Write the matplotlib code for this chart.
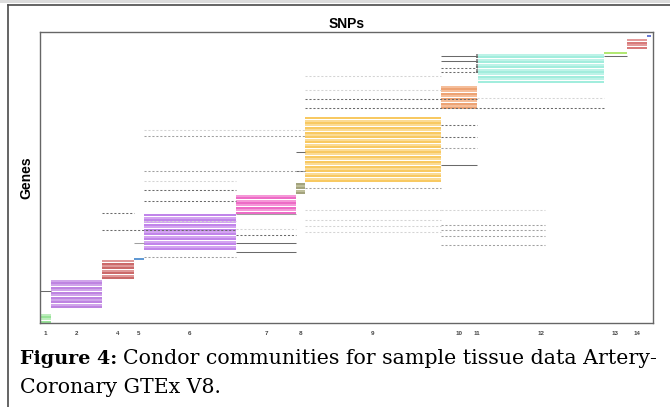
import numpy as np
import matplotlib.pyplot as plt
from matplotlib.lines import Line2D
from matplotlib.patches import Rectangle

# Communities: SNP span (x), gene span (y), colour pair (row, alternate row)
comm_labels = ["1", "2", "4", "5", "6", "7", "8", "9", "10", "11", "12", "13", "14", ""]
snp_start = [0, 44, 248, 376, 416, 784, 1024, 1060, 1604, 1746, 1752, 2256, 2348, 2428]
snp_end = [44, 248, 376, 416, 784, 1024, 1060, 1604, 1748, 1752, 2256, 2348, 2428, 2444]
gene_start = [0, 6, 18, 26, 30, 45, 53, 58, 88, 103, 99, 111, 113, 118]
gene_end = [4, 18, 26, 27, 45, 53, 58, 85, 98, 111, 111, 112, 117, 119]
comm_colors = [
    ("#8ee08e", "#b6ecb6"),
    ("#b877de", "#cc9ce8"),
    ("#c65a5a", "#dc8e8e"),
    ("#4f8fd0", "#4f8fd0"),
    ("#bb78e8", "#d09cf0"),
    ("#ec5cc0", "#f48ed4"),
    ("#9a9a70", "#b8b890"),
    ("#f8c452", "#fbd88a"),
    ("#ec9a66", "#f4b890"),
    ("#666666", "#888888"),
    ("#98ecda", "#b6f2e6"),
    ("#aae664", "#aae664"),
    ("#d46c6c", "#e09090"),
    ("#5a6cd0", "#5a6cd0"),
]

# Genes shared with other SNP groups: (snp_from, snp_to, gene, shade, dotted)
link_from = [0, 248, 248, 376, 416, 416, 416, 784, 784, 784, 784, 784, 1024, 1024,
             1060, 1060, 1604, 1604, 1604, 1604, 1604, 1604, 1604, 1604, 1060, 1060,
             1060, 1060, 1060, 1604, 1604, 1604, 1604, 1604, 2256, 1748, 416, 416,
             416, 416, 1060, 1060, 416]
link_to = [44, 376, 784, 416, 784, 784, 784, 1024, 1024, 1024, 1024, 1024, 1060, 1060,
           1748, 2256, 1748, 1748, 1748, 1748, 1748, 1748, 1748, 1748, 1604, 1604,
           1604, 1604, 1604, 2020, 2020, 2020, 2020, 2020, 2348, 2256, 1060, 1060,
           1060, 784, 1604, 1604, 784]
link_gene = [13.2, 45.4, 38.4, 33.0, 54.8, 50.3, 27.2, 45.0, 38.8, 36.3, 33.0, 29.3,
             62.7, 70.5, 92.4, 88.7, 110.1, 108.0, 105.2, 103.5, 81.6, 76.7, 72.2, 65.2,
             55.7, 46.6, 42.5, 40.0, 37.5, 46.6, 40.4, 38.4, 35.9, 32.2, 110.1, 92.8,
             79.6, 77.1, 62.7, 58.6, 102.0, 96.0, 42.0]
link_shade = ["d", "d", "d", "g", "d", "d", "g", "g", "l", "d", "d", "d",
              "d", "d", "d", "d", "d", "d", "d", "d", "d", "d", "g", "d",
              "g", "l", "l", "l", "l", "l", "g", "g", "g", "g", "d", "l",
              "l", "g", "g", "l", "l", "l", "l"]
link_dotted = [0, 1, 1, 0, 1, 1, 1, 0, 1, 1, 0, 0,
               0, 0, 1, 1, 0, 0, 1, 1, 1, 1, 1, 0,
               1, 1, 1, 1, 1, 1, 1, 1, 1, 1, 0, 1,
               1, 1, 1, 1, 1, 1, 1]

n_snps = 2452
n_genes = 120

shade_color = {"d": "#6a6a6a", "g": "#a0a0a0", "l": "#d4d4d4"}

fig = plt.figure(figsize=(6.7, 4.07), dpi=100)
ax = fig.add_axes([40 / 670, 84 / 407, 613 / 670, 291 / 407])

# rows of each community
for x0, x1, g0, g1, (c_row, c_alt) in zip(snp_start, snp_end, gene_start, gene_end, comm_colors):
    for g in range(g0, g1):
        col = c_row if (g - g0) % 2 == 0 else c_alt
        ax.hlines(g + 0.5, x0, x1, colors=col, linewidth=1.3)

# links between communities
for x0, x1, g, s, d in zip(link_from, link_to, link_gene, link_shade, link_dotted):
    ls = (0, (2.0, 1.8)) if d else "-"
    ax.hlines(g, x0, x1, colors=shade_color[s], linewidth=0.75, linestyles=ls)

ax.set_xlim(0, n_snps)
ax.set_ylim(0, n_genes)

# tick at the middle of every labelled community
centers = [(a + b) / 2 for a, b, lab in zip(snp_start, snp_end, comm_labels) if lab]
ax.set_xticks(centers)
ax.set_xticklabels([lab for lab in comm_labels if lab], fontsize=4.5,
                   fontweight="bold", color="#444444", family="Liberation Sans")
ax.tick_params(axis="x", length=0, pad=6)
ax.set_yticks([])
for sp in ax.spines.values():
    sp.set_color("#666666")
    sp.set_linewidth(1.0)

ax.set_title("SNPs", fontsize=10, fontweight="bold", pad=3, family="Liberation Sans")
ax.set_ylabel("Genes", fontsize=10, fontweight="bold", labelpad=5, family="Liberation Sans")

# page frame round the figure
fig.add_artist(Rectangle((0, 1 - 3 / 407), 1, 3 / 407, transform=fig.transFigure,
                         color="#dcdcdc", lw=0))
fig.add_artist(Line2D([8 / 670, 8 / 670], [0, 1 - 5 / 407], transform=fig.transFigure,
                      color="#4a4a4a", lw=1.2))
fig.add_artist(Line2D([8 / 670, 1], [1 - 5 / 407, 1 - 5 / 407], transform=fig.transFigure,
                      color="#4a4a4a", lw=1.2))

# caption
cap_font = "DejaVu Serif"
t1 = fig.text(20 / 670, 1 - 364 / 407, "Figure 4:", fontsize=13.8, fontweight="bold",
              family=cap_font, va="baseline")
ax.annotate("Condor communities for sample tissue data Artery-", xy=(1, 0), xycoords=t1,
            xytext=(4, 0), textcoords="offset points", fontsize=14.8, family=cap_font,
            va="bottom", annotation_clip=False)
fig.text(20 / 670, 1 - 393 / 407, "Coronary GTEx V8.", fontsize=14.8, family=cap_font,
         va="baseline")

fig.savefig("out.png", dpi=100)
